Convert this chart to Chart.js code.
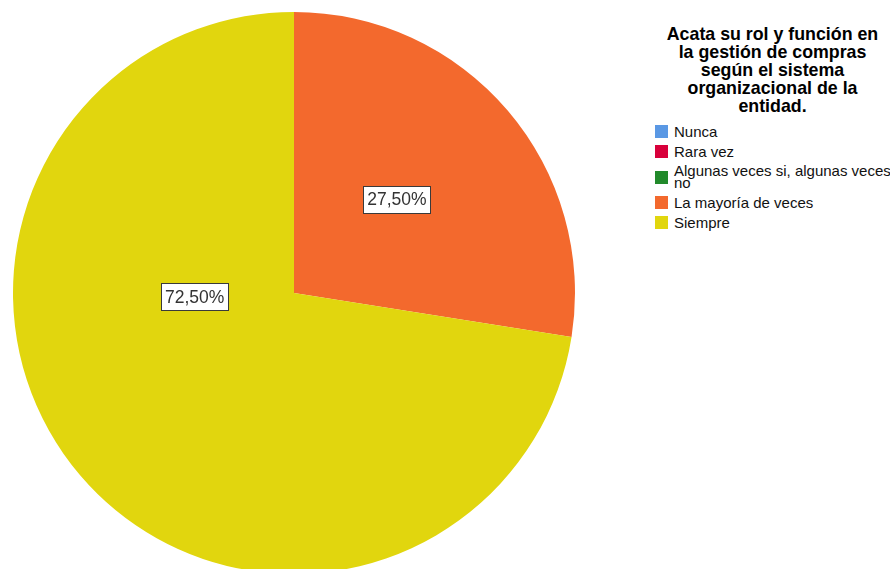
<!DOCTYPE html>
<html>
<head>
<meta charset="utf-8">
<script src="https://cdn.jsdelivr.net/npm/chart.js@4.4.1/dist/chart.umd.min.js"></script>
<style>
  html, body { margin: 0; padding: 0; background: #fff; overflow: hidden; width: 890px; height: 569px; }
  #pieBox { position: absolute; left: 0; top: 0; width: 588px; height: 586px; }
  #legend { position: absolute; left: 655px; top: 0; width: 235px; font-family: "Liberation Sans", Arial, sans-serif; color: #000; }
  #legend .title { position: absolute; left: 0; top: 25px; width: 235px; font-weight: bold; font-size: 17.8px; line-height: 18px; text-align: center; }
  #legend .items { position: absolute; left: 0; top: 125px; width: 240px; }
  #legend .item { display: flex; align-items: center; font-size: 15px; line-height: 12px; margin-bottom: 7px; color: #111; }
  #legend .sw { flex: none; width: 13px; height: 13px; margin-right: 6px; }
</style>
</head>
<body>
<div id="pieBox"><canvas id="pie" width="588" height="586"></canvas></div>
<div id="legend"></div>
<script>
// respuestas y porcentajes
const titleLines = ['Acata su rol y función en', 'la gestión de compras', 'según el sistema', 'organizacional de la', 'entidad.'];
const categories = ['Nunca', 'Rara vez', 'Algunas veces si, algunas veces\nno', 'La mayoría de veces', 'Siempre'];
const percents = [0, 0, 0, 27.5, 72.5];
const colors = ['#5a98e4', '#d8003b', '#228a2b', '#f3692d', '#e1d60e'];

// posición de cada etiqueta: fracción del radio y ángulo en grados desde arriba (null = centro del sector)
const labelPos = [null, null, null, { r: 0.496, deg: 47.6 }, { r: 0.354, deg: 267.7 }];

function fmt(v) {
    return v.toFixed(2).replace('.', ',') + '%';
}

// leyenda armada a partir de los arreglos
const legend = document.getElementById('legend');
let html = '<div class="title">' + titleLines.join('<br>') + '</div><div class="items">';
for (let i = 0; i < categories.length; i++) {
    html += '<div class="item"><span class="sw" style="background:' + colors[i] + '"></span><span>' +
        categories[i].replace('\n', '<br>') + '</span></div>';
}
legend.innerHTML = html + '</div>';

const boxLabels = {
    id: 'boxLabels',
    afterDatasetsDraw(chart) {
        const ctx = chart.ctx;
        const meta = chart.getDatasetMeta(0);
        ctx.save();
        ctx.font = '17.5px "Liberation Sans", Arial, sans-serif';
        ctx.textAlign = 'center';
        ctx.textBaseline = 'middle';
        meta.data.forEach((arc, i) => {
            if (!percents[i]) return;
            const p = arc.getProps(['x', 'y', 'startAngle', 'endAngle', 'outerRadius']);
            const lp = labelPos[i] || { r: 0.5, deg: null };
            let ang = (p.startAngle + p.endAngle) / 2;
            if (lp.deg !== null) ang = (lp.deg - 90) * Math.PI / 180;
            const x = p.x + Math.cos(ang) * p.outerRadius * lp.r;
            const y = p.y + Math.sin(ang) * p.outerRadius * lp.r;
            const txt = fmt(percents[i]);
            const w = Math.round(ctx.measureText(txt).width + 8);
            const h = 27;
            const bx = Math.round(x - w / 2) + 0.5;
            const by = Math.round(y - h / 2) + 0.5;
            ctx.fillStyle = '#fff';
            ctx.fillRect(bx, by, w, h);
            ctx.strokeStyle = '#3a3a3a';
            ctx.lineWidth = 1;
            ctx.strokeRect(bx, by, w, h);
            ctx.fillStyle = '#333';
            ctx.fillText(txt, x, y + 1);
        });
        ctx.restore();
    }
};

new Chart(document.getElementById('pie'), {
    type: 'pie',
    data: {
        labels: categories,
        datasets: [{
            data: percents,
            backgroundColor: colors,
            borderWidth: 0
        }]
    },
    options: {
        responsive: false,
        animation: false,
        layout: { padding: 12 },
        plugins: {
            legend: { display: false },
            tooltip: { enabled: false }
        }
    },
    plugins: [boxLabels]
});
</script>
</body>
</html>
